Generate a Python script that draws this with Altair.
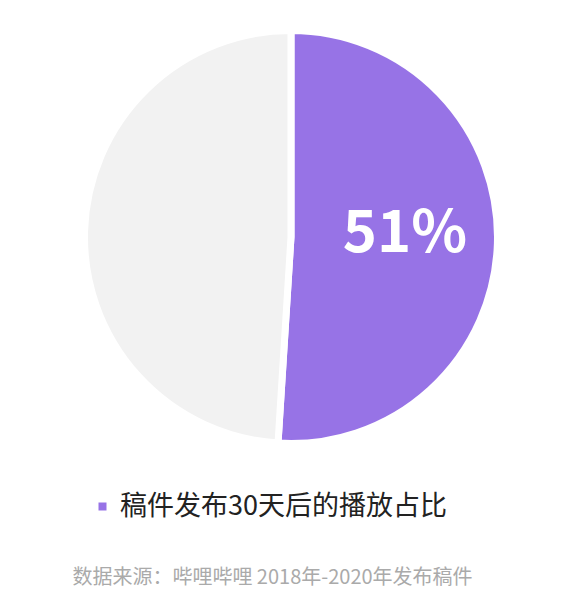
import altair as alt
import pandas as pd

categories = ["稿件发布30天后的播放占比", "其他"]
values = [51, 49]
labels = ["51%", ""]
source_note = "数据来源：哔哩哔哩 2018年-2020年发布稿件"

PURPLE = "#9773E6"
GRAY = "#F2F2F2"
FONT = "Noto Sans CJK SC"

df = pd.DataFrame({
    "category": categories,
    "value": values,
    "label": labels,
    "idx": list(range(len(categories))),
})

CX, CY = 283, 229

base = alt.Chart(df).encode(
    theta=alt.Theta("value:Q", stack=True),
    order=alt.Order("idx:Q", sort="ascending"),
)

arcs = base.mark_arc(outerRadius=206.5, stroke="white", strokeWidth=7).encode(
    x=alt.value(CX),
    y=alt.value(CY),
    color=alt.Color(
        "category:N",
        scale=alt.Scale(domain=categories, range=[PURPLE, GRAY]),
        legend=alt.Legend(
            values=[categories[0]],
            title=None,
            orient="none",
            legendX=81,
            legendY=485,
            padding=0,
            symbolType="square",
            symbolSize=64,
            symbolStrokeWidth=0,
            labelFontSize=27,
            labelFont=FONT,
            labelColor="#222222",
            labelOffset=4,
            labelLimit=600,
        ),
    ),
)

text = base.mark_text(
    radius=114, fontSize=58, fontWeight="bold", color="white",
    font=FONT, align="center", baseline="middle", dy=-6,
).encode(
    x=alt.value(CX),
    y=alt.value(CY),
    text="label:N",
)

note = alt.Chart(pd.DataFrame({"t": [source_note]})).mark_text(
    fontSize=20, color="#AAAAAA", font=FONT, align="center", baseline="middle",
).encode(
    text="t:N",
    x=alt.value(264.5),
    y=alt.value(570),
)

chart = alt.layer(arcs, text, note).properties(
    width=551, height=594, padding=0, autosize=alt.AutoSizeParams(type="none"),
).configure_view(stroke=None)

chart.save("out.html", embed_options={"renderer": "svg", "actions": False})
